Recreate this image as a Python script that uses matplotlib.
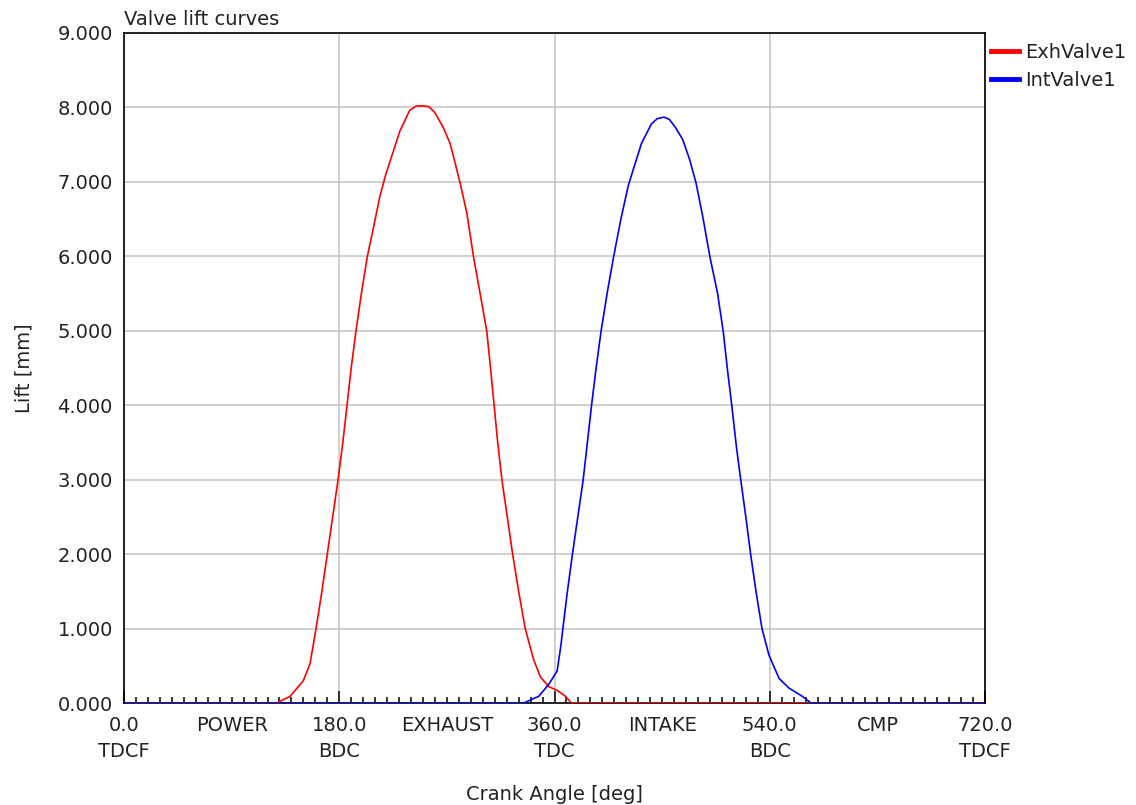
import matplotlib
matplotlib.use("Agg")
import matplotlib.pyplot as plt
from matplotlib.ticker import FuncFormatter, MultipleLocator

# Exhaust valve lift [mm] vs crank angle [deg]
exh_angle = [0, 127.8, 138.9, 150.0, 155.6, 160.6, 165.5, 170.0, 174.5, 179.0,
             183.0, 186.5, 190.0, 194.0, 198.5, 203.5, 208.8, 213.9, 218.9,
             224.4, 230.6, 238.9, 244.4, 251.4, 255.0, 260.0, 267.0, 272.6,
             276.8, 281.0, 286.6, 292.3, 297.8, 303.4, 306.5, 309.5, 312.5,
             316.0, 320.5, 325.0, 330.0, 335.5, 342.6, 348.2, 355.2, 362.2,
             369.2, 374.0, 720]
exh_lift = [0, 0, 0.09, 0.30, 0.53, 1.00, 1.50, 2.00, 2.50, 3.00,
            3.50, 4.00, 4.50, 5.00, 5.50, 6.00, 6.40, 6.80, 7.10,
            7.37, 7.68, 7.96, 8.02, 8.02, 8.01, 7.93, 7.73, 7.52,
            7.26, 6.99, 6.59, 5.99, 5.50, 4.99, 4.50, 4.00, 3.50,
            3.00, 2.50, 2.00, 1.50, 1.00, 0.58, 0.35, 0.22, 0.17,
            0.09, 0, 0]

# Intake valve lift [mm] vs crank angle [deg]
int_angle = [0, 334.2, 346.8, 355.2, 362.2, 365.5, 367.0, 370.8, 375.0, 379.5,
             384.0, 387.5, 391.0, 394.8, 399.0, 404.5, 409.5, 415.5, 421.7,
             426.7, 432.8, 441.1, 446.0, 451.5, 456.0, 461.2, 467.2, 472.8,
             478.3, 483.9, 490.0, 496.4, 501.1, 504.7, 508.3, 512.2, 515.8,
             520.0, 524.0, 528.5, 533.5, 539.4, 547.8, 556.1, 567.2, 574.5,
             720]
int_lift = [0, 0, 0.09, 0.25, 0.43, 0.79, 1.00, 1.50, 2.00, 2.50,
            3.00, 3.50, 4.00, 4.50, 5.00, 5.55, 6.00, 6.50, 6.95,
            7.21, 7.52, 7.78, 7.85, 7.87, 7.84, 7.73, 7.57, 7.31,
            6.99, 6.54, 5.99, 5.50, 4.99, 4.47, 3.99, 3.43, 2.99,
            2.50, 2.00, 1.50, 1.00, 0.64, 0.33, 0.20, 0.09, 0,
            0]

# Axis annotations
dead_centre_angles = [0, 180, 360, 540, 720]
dead_centre_names = ["TDCF", "BDC", "TDC", "BDC", "TDCF"]
stroke_centres = [90, 270, 450, 630]
stroke_names = ["POWER", "EXHAUST", "INTAKE", "CMP"]
lift_ticks = [0, 1, 2, 3, 4, 5, 6, 7, 8, 9]

text_color = "#222222"
grid_color = "#c8c8c8"
plt.rcParams["font.family"] = ["DejaVu Sans"]
plt.rcParams["font.size"] = 14
plt.rcParams["text.color"] = text_color
plt.rcParams["axes.labelcolor"] = text_color
plt.rcParams["xtick.color"] = "black"
plt.rcParams["ytick.color"] = "black"
plt.rcParams["xtick.labelcolor"] = text_color
plt.rcParams["ytick.labelcolor"] = text_color

fig = plt.figure(figsize=(11.36, 8.05), dpi=100)
ax = fig.add_axes([124 / 1136, 1 - 703 / 805, (985 - 124) / 1136, (703 - 33) / 805])

ax.plot(exh_angle, exh_lift, color="#ff0000", lw=1.2, label="ExhValve1", zorder=3)
ax.plot(int_angle, int_lift, color="#0000ff", lw=1.2, label="IntValve1", zorder=4)

ax.set_xlim(0, 720)
ax.set_ylim(0, 9)

# x axis: dead centres as major ticks, stroke names as minor labels
ax.set_xticks(dead_centre_angles)
ax.set_xticklabels([f"{a:.1f}\n{n}" for a, n in zip(dead_centre_angles, dead_centre_names)])
ax.xaxis.set_minor_locator(MultipleLocator(10))
stroke_map = dict(zip(stroke_centres, stroke_names))
ax.xaxis.set_minor_formatter(FuncFormatter(lambda v, p: stroke_map.get(int(round(v)), "")
                                           if abs(v - round(v)) < 1e-6 else ""))
ax.tick_params(axis="x", which="major", direction="in", length=9, width=1.1, pad=9,
               labelsize=14)
ax.tick_params(axis="x", which="minor", direction="in", length=4, width=1.1, pad=9,
               labelsize=14)
for lbl in ax.get_xticklabels(which="both"):
    lbl.set_linespacing(1.5)

ax.set_yticks(lift_ticks)
ax.yaxis.set_major_formatter(FuncFormatter(lambda v, p: f"{v:.3f}"))
ax.tick_params(axis="y", which="both", length=0, pad=8, labelsize=14)

ax.grid(True, which="major", color=grid_color, lw=1.2)
ax.set_axisbelow(True)
for s in ax.spines.values():
    s.set_linewidth(1.2)
    s.set_color("black")

ax.set_title("Valve lift curves", loc="left", fontsize=14, pad=6, color=text_color)
ax.set_xlabel("Crank Angle [deg]", fontsize=14, labelpad=17)
ax.set_ylabel("Lift [mm]", fontsize=14, labelpad=17)

ax.legend(loc="upper left", bbox_to_anchor=(991 / 1136, 1 - 43 / 805),
          bbox_transform=fig.transFigure, frameon=False, fontsize=14,
          handlelength=1.45, handletextpad=0.3, labelspacing=0.45,
          borderaxespad=0, borderpad=0)
for h in ax.get_legend().get_lines():
    h.set_linewidth(3.5)

fig.savefig("out.png", dpi=100, facecolor="white")
